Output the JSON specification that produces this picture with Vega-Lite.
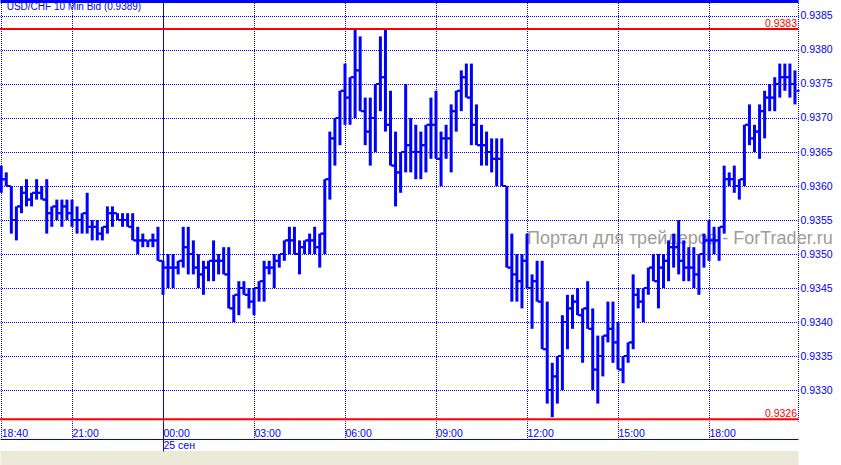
{
  "$schema": "https://vega.github.io/schema/vega-lite/v6.json",
  "width": 798,
  "height": 420,
  "autosize": {"type": "none"},
  "padding": {"left": 0, "top": 1, "right": 43, "bottom": 44},
  "background": "#ffffff",
  "config": {"view": {"stroke": null}, "font": "Liberation Sans"},
  "resolve": {"axis": {"x": "independent"}},
  "datasets": {
    "bars": [
      {"t":"2012-09-24T18:40","o":0.9359,"h":0.9363,"l":0.9359,"c":0.9361},
      {"t":"2012-09-24T18:50","o":0.9361,"h":0.9362,"l":0.9360,"c":0.9360},
      {"t":"2012-09-24T19:00","o":0.9360,"h":0.9360,"l":0.9353,"c":0.9355},
      {"t":"2012-09-24T19:10","o":0.9355,"h":0.9357,"l":0.9352,"c":0.9357},
      {"t":"2012-09-24T19:20","o":0.9357,"h":0.9360,"l":0.9356,"c":0.9359},
      {"t":"2012-09-24T19:30","o":0.9359,"h":0.9361,"l":0.9357,"c":0.9358},
      {"t":"2012-09-24T19:40","o":0.9358,"h":0.9359,"l":0.9357,"c":0.9359},
      {"t":"2012-09-24T19:50","o":0.9359,"h":0.9361,"l":0.9358,"c":0.9359},
      {"t":"2012-09-24T20:00","o":0.9359,"h":0.9360,"l":0.9358,"c":0.9358},
      {"t":"2012-09-24T20:10","o":0.9358,"h":0.9361,"l":0.9353,"c":0.9356},
      {"t":"2012-09-24T20:20","o":0.9356,"h":0.9357,"l":0.9354,"c":0.9357},
      {"t":"2012-09-24T20:30","o":0.9357,"h":0.9358,"l":0.9355,"c":0.9356},
      {"t":"2012-09-24T20:40","o":0.9356,"h":0.9358,"l":0.9354,"c":0.9357},
      {"t":"2012-09-24T20:50","o":0.9357,"h":0.9358,"l":0.9355,"c":0.9356},
      {"t":"2012-09-24T21:00","o":0.9356,"h":0.9358,"l":0.9354,"c":0.9355},
      {"t":"2012-09-24T21:10","o":0.9355,"h":0.9357,"l":0.9353,"c":0.9355},
      {"t":"2012-09-24T21:20","o":0.9355,"h":0.9356,"l":0.9353,"c":0.9356},
      {"t":"2012-09-24T21:30","o":0.9356,"h":0.9359,"l":0.9353,"c":0.9354},
      {"t":"2012-09-24T21:40","o":0.9354,"h":0.9355,"l":0.9352,"c":0.9354},
      {"t":"2012-09-24T21:50","o":0.9354,"h":0.9355,"l":0.9352,"c":0.9353},
      {"t":"2012-09-24T22:00","o":0.9353,"h":0.9354,"l":0.9352,"c":0.9354},
      {"t":"2012-09-24T22:10","o":0.9354,"h":0.9357,"l":0.9353,"c":0.9356},
      {"t":"2012-09-24T22:20","o":0.9356,"h":0.9357,"l":0.9354,"c":0.9356},
      {"t":"2012-09-24T22:30","o":0.9356,"h":0.9356,"l":0.9355,"c":0.9355},
      {"t":"2012-09-24T22:40","o":0.9355,"h":0.9356,"l":0.9354,"c":0.9355},
      {"t":"2012-09-24T22:50","o":0.9355,"h":0.9356,"l":0.9354,"c":0.9354},
      {"t":"2012-09-24T23:00","o":0.9354,"h":0.9356,"l":0.9352,"c":0.9352},
      {"t":"2012-09-24T23:10","o":0.9352,"h":0.9354,"l":0.9350,"c":0.9352},
      {"t":"2012-09-24T23:20","o":0.9352,"h":0.9353,"l":0.9351,"c":0.9352},
      {"t":"2012-09-24T23:30","o":0.9352,"h":0.9352,"l":0.9351,"c":0.9352},
      {"t":"2012-09-24T23:40","o":0.9352,"h":0.9353,"l":0.9351,"c":0.9352},
      {"t":"2012-09-24T23:50","o":0.9352,"h":0.9354,"l":0.9349,"c":0.9349},
      {"t":"2012-09-25T00:00","o":0.9349,"h":0.9349,"l":0.9344,"c":0.9348},
      {"t":"2012-09-25T00:10","o":0.9348,"h":0.9350,"l":0.9345,"c":0.9348},
      {"t":"2012-09-25T00:20","o":0.9348,"h":0.9350,"l":0.9345,"c":0.9348},
      {"t":"2012-09-25T00:30","o":0.9348,"h":0.9349,"l":0.9347,"c":0.9349},
      {"t":"2012-09-25T00:40","o":0.9349,"h":0.9354,"l":0.9348,"c":0.9351},
      {"t":"2012-09-25T00:50","o":0.9351,"h":0.9354,"l":0.9347,"c":0.9350},
      {"t":"2012-09-25T01:00","o":0.9350,"h":0.9352,"l":0.9347,"c":0.9348},
      {"t":"2012-09-25T01:10","o":0.9348,"h":0.9350,"l":0.9345,"c":0.9347},
      {"t":"2012-09-25T01:20","o":0.9347,"h":0.9349,"l":0.9344,"c":0.9348},
      {"t":"2012-09-25T01:30","o":0.9348,"h":0.9349,"l":0.9346,"c":0.9349},
      {"t":"2012-09-25T01:40","o":0.9349,"h":0.9352,"l":0.9346,"c":0.9349},
      {"t":"2012-09-25T01:50","o":0.9349,"h":0.9350,"l":0.9347,"c":0.9349},
      {"t":"2012-09-25T02:00","o":0.9349,"h":0.9351,"l":0.9347,"c":0.9347},
      {"t":"2012-09-25T02:10","o":0.9347,"h":0.9351,"l":0.9342,"c":0.9342},
      {"t":"2012-09-25T02:20","o":0.9342,"h":0.9344,"l":0.9340,"c":0.9344},
      {"t":"2012-09-25T02:30","o":0.9344,"h":0.9346,"l":0.9341,"c":0.9345},
      {"t":"2012-09-25T02:40","o":0.9345,"h":0.9346,"l":0.9344,"c":0.9344},
      {"t":"2012-09-25T02:50","o":0.9344,"h":0.9345,"l":0.9342,"c":0.9343},
      {"t":"2012-09-25T03:00","o":0.9343,"h":0.9345,"l":0.9341,"c":0.9345},
      {"t":"2012-09-25T03:10","o":0.9345,"h":0.9346,"l":0.9343,"c":0.9346},
      {"t":"2012-09-25T03:20","o":0.9346,"h":0.9349,"l":0.9343,"c":0.9348},
      {"t":"2012-09-25T03:30","o":0.9348,"h":0.9349,"l":0.9347,"c":0.9348},
      {"t":"2012-09-25T03:40","o":0.9348,"h":0.9350,"l":0.9345,"c":0.9349},
      {"t":"2012-09-25T03:50","o":0.9349,"h":0.9350,"l":0.9348,"c":0.9350},
      {"t":"2012-09-25T04:00","o":0.9350,"h":0.9352,"l":0.9349,"c":0.9352},
      {"t":"2012-09-25T04:10","o":0.9352,"h":0.9354,"l":0.9350,"c":0.9352},
      {"t":"2012-09-25T04:20","o":0.9352,"h":0.9354,"l":0.9350,"c":0.9350},
      {"t":"2012-09-25T04:30","o":0.9350,"h":0.9352,"l":0.9347,"c":0.9351},
      {"t":"2012-09-25T04:40","o":0.9351,"h":0.9352,"l":0.9350,"c":0.9352},
      {"t":"2012-09-25T04:50","o":0.9352,"h":0.9353,"l":0.9350,"c":0.9352},
      {"t":"2012-09-25T05:00","o":0.9352,"h":0.9354,"l":0.9350,"c":0.9351},
      {"t":"2012-09-25T05:10","o":0.9351,"h":0.9353,"l":0.9348,"c":0.9353},
      {"t":"2012-09-25T05:20","o":0.9353,"h":0.9361,"l":0.9350,"c":0.9361},
      {"t":"2012-09-25T05:30","o":0.9361,"h":0.9368,"l":0.9358,"c":0.9367},
      {"t":"2012-09-25T05:40","o":0.9367,"h":0.9370,"l":0.9363,"c":0.9370},
      {"t":"2012-09-25T05:50","o":0.9370,"h":0.9374,"l":0.9366,"c":0.9374},
      {"t":"2012-09-25T06:00","o":0.9374,"h":0.9378,"l":0.9369,"c":0.9373},
      {"t":"2012-09-25T06:10","o":0.9373,"h":0.9376,"l":0.9369,"c":0.9376},
      {"t":"2012-09-25T06:20","o":0.9376,"h":0.9383,"l":0.9370,"c":0.9377},
      {"t":"2012-09-25T06:30","o":0.9377,"h":0.9382,"l":0.9371,"c":0.9371},
      {"t":"2012-09-25T06:40","o":0.9371,"h":0.9373,"l":0.9366,"c":0.9368},
      {"t":"2012-09-25T06:50","o":0.9368,"h":0.9373,"l":0.9363,"c":0.9370},
      {"t":"2012-09-25T07:00","o":0.9370,"h":0.9375,"l":0.9365,"c":0.9375},
      {"t":"2012-09-25T07:10","o":0.9375,"h":0.9382,"l":0.9371,"c":0.9376},
      {"t":"2012-09-25T07:20","o":0.9376,"h":0.9383,"l":0.9368,"c":0.9369},
      {"t":"2012-09-25T07:30","o":0.9369,"h":0.9374,"l":0.9363,"c":0.9363},
      {"t":"2012-09-25T07:40","o":0.9363,"h":0.9368,"l":0.9357,"c":0.9362},
      {"t":"2012-09-25T07:50","o":0.9362,"h":0.9365,"l":0.9359,"c":0.9365},
      {"t":"2012-09-25T08:00","o":0.9365,"h":0.9375,"l":0.9362,"c":0.9366},
      {"t":"2012-09-25T08:10","o":0.9366,"h":0.9370,"l":0.9362,"c":0.9365},
      {"t":"2012-09-25T08:20","o":0.9365,"h":0.9369,"l":0.9361,"c":0.9365},
      {"t":"2012-09-25T08:30","o":0.9365,"h":0.9368,"l":0.9361,"c":0.9366},
      {"t":"2012-09-25T08:40","o":0.9366,"h":0.9369,"l":0.9362,"c":0.9369},
      {"t":"2012-09-25T08:50","o":0.9369,"h":0.9373,"l":0.9364,"c":0.9369},
      {"t":"2012-09-25T09:00","o":0.9369,"h":0.9374,"l":0.9364,"c":0.9364},
      {"t":"2012-09-25T09:10","o":0.9364,"h":0.9368,"l":0.9360,"c":0.9367},
      {"t":"2012-09-25T09:20","o":0.9367,"h":0.9369,"l":0.9364,"c":0.9367},
      {"t":"2012-09-25T09:30","o":0.9367,"h":0.9372,"l":0.9362,"c":0.9371},
      {"t":"2012-09-25T09:40","o":0.9371,"h":0.9374,"l":0.9368,"c":0.9374},
      {"t":"2012-09-25T09:50","o":0.9374,"h":0.9377,"l":0.9371,"c":0.9376},
      {"t":"2012-09-25T10:00","o":0.9376,"h":0.9378,"l":0.9373,"c":0.9373},
      {"t":"2012-09-25T10:10","o":0.9373,"h":0.9378,"l":0.9366,"c":0.9369},
      {"t":"2012-09-25T10:20","o":0.9369,"h":0.9372,"l":0.9366,"c":0.9366},
      {"t":"2012-09-25T10:30","o":0.9366,"h":0.9369,"l":0.9363,"c":0.9366},
      {"t":"2012-09-25T10:40","o":0.9366,"h":0.9368,"l":0.9363,"c":0.9365},
      {"t":"2012-09-25T10:50","o":0.9365,"h":0.9367,"l":0.9362,"c":0.9364},
      {"t":"2012-09-25T11:00","o":0.9364,"h":0.9367,"l":0.9360,"c":0.9364},
      {"t":"2012-09-25T11:10","o":0.9364,"h":0.9367,"l":0.9360,"c":0.9360},
      {"t":"2012-09-25T11:20","o":0.9360,"h":0.9360,"l":0.9348,"c":0.9348},
      {"t":"2012-09-25T11:30","o":0.9348,"h":0.9353,"l":0.9343,"c":0.9347},
      {"t":"2012-09-25T11:40","o":0.9347,"h":0.9350,"l":0.9343,"c":0.9346},
      {"t":"2012-09-25T11:50","o":0.9346,"h":0.9350,"l":0.9342,"c":0.9349},
      {"t":"2012-09-25T12:00","o":0.9349,"h":0.9353,"l":0.9345,"c":0.9345},
      {"t":"2012-09-25T12:10","o":0.9345,"h":0.9347,"l":0.9339,"c":0.9346},
      {"t":"2012-09-25T12:20","o":0.9346,"h":0.9349,"l":0.9343,"c":0.9343},
      {"t":"2012-09-25T12:30","o":0.9343,"h":0.9349,"l":0.9336,"c":0.9336},
      {"t":"2012-09-25T12:40","o":0.9336,"h":0.9343,"l":0.9328,"c":0.9330},
      {"t":"2012-09-25T12:50","o":0.9330,"h":0.9334,"l":0.9326,"c":0.9332},
      {"t":"2012-09-25T13:00","o":0.9332,"h":0.9335,"l":0.9328,"c":0.9335},
      {"t":"2012-09-25T13:10","o":0.9335,"h":0.9341,"l":0.9330,"c":0.9340},
      {"t":"2012-09-25T13:20","o":0.9340,"h":0.9344,"l":0.9336,"c":0.9342},
      {"t":"2012-09-25T13:30","o":0.9342,"h":0.9344,"l":0.9339,"c":0.9343},
      {"t":"2012-09-25T13:40","o":0.9343,"h":0.9345,"l":0.9341,"c":0.9341},
      {"t":"2012-09-25T13:50","o":0.9341,"h":0.9342,"l":0.9334,"c":0.9342},
      {"t":"2012-09-25T14:00","o":0.9342,"h":0.9346,"l":0.9339,"c":0.9339},
      {"t":"2012-09-25T14:10","o":0.9339,"h":0.9342,"l":0.9330,"c":0.9333},
      {"t":"2012-09-25T14:20","o":0.9333,"h":0.9338,"l":0.9328,"c":0.9335},
      {"t":"2012-09-25T14:30","o":0.9335,"h":0.9338,"l":0.9332,"c":0.9338},
      {"t":"2012-09-25T14:40","o":0.9338,"h":0.9343,"l":0.9337,"c":0.9339},
      {"t":"2012-09-25T14:50","o":0.9339,"h":0.9343,"l":0.9334,"c":0.9337},
      {"t":"2012-09-25T15:00","o":0.9337,"h":0.9340,"l":0.9333,"c":0.9333},
      {"t":"2012-09-25T15:10","o":0.9333,"h":0.9335,"l":0.9331,"c":0.9335},
      {"t":"2012-09-25T15:20","o":0.9335,"h":0.9337,"l":0.9334,"c":0.9337},
      {"t":"2012-09-25T15:30","o":0.9337,"h":0.9347,"l":0.9336,"c":0.9344},
      {"t":"2012-09-25T15:40","o":0.9344,"h":0.9345,"l":0.9342,"c":0.9343},
      {"t":"2012-09-25T15:50","o":0.9343,"h":0.9345,"l":0.9340,"c":0.9345},
      {"t":"2012-09-25T16:00","o":0.9345,"h":0.9348,"l":0.9344,"c":0.9348},
      {"t":"2012-09-25T16:10","o":0.9348,"h":0.9350,"l":0.9346,"c":0.9346},
      {"t":"2012-09-25T16:20","o":0.9346,"h":0.9350,"l":0.9342,"c":0.9348},
      {"t":"2012-09-25T16:30","o":0.9348,"h":0.9350,"l":0.9345,"c":0.9349},
      {"t":"2012-09-25T16:40","o":0.9349,"h":0.9352,"l":0.9346,"c":0.9351},
      {"t":"2012-09-25T16:50","o":0.9351,"h":0.9353,"l":0.9348,"c":0.9351},
      {"t":"2012-09-25T17:00","o":0.9351,"h":0.9355,"l":0.9347,"c":0.9349},
      {"t":"2012-09-25T17:10","o":0.9349,"h":0.9352,"l":0.9346,"c":0.9348},
      {"t":"2012-09-25T17:20","o":0.9348,"h":0.9351,"l":0.9346,"c":0.9348},
      {"t":"2012-09-25T17:30","o":0.9348,"h":0.9351,"l":0.9345,"c":0.9347},
      {"t":"2012-09-25T17:40","o":0.9347,"h":0.9350,"l":0.9344,"c":0.9350},
      {"t":"2012-09-25T17:50","o":0.9350,"h":0.9353,"l":0.9348,"c":0.9352},
      {"t":"2012-09-25T18:00","o":0.9352,"h":0.9355,"l":0.9349,"c":0.9352},
      {"t":"2012-09-25T18:10","o":0.9352,"h":0.9354,"l":0.9350,"c":0.9352},
      {"t":"2012-09-25T18:20","o":0.9352,"h":0.9354,"l":0.9349,"c":0.9354},
      {"t":"2012-09-25T18:30","o":0.9354,"h":0.9363,"l":0.9353,"c":0.9361},
      {"t":"2012-09-25T18:40","o":0.9361,"h":0.9362,"l":0.9360,"c":0.9361},
      {"t":"2012-09-25T18:50","o":0.9361,"h":0.9363,"l":0.9359,"c":0.9360},
      {"t":"2012-09-25T19:00","o":0.9360,"h":0.9361,"l":0.9358,"c":0.9361},
      {"t":"2012-09-25T19:10","o":0.9361,"h":0.9369,"l":0.9360,"c":0.9369},
      {"t":"2012-09-25T19:20","o":0.9369,"h":0.9372,"l":0.9366,"c":0.9367},
      {"t":"2012-09-25T19:30","o":0.9367,"h":0.9369,"l":0.9365,"c":0.9368},
      {"t":"2012-09-25T19:40","o":0.9368,"h":0.9372,"l":0.9364,"c":0.9371},
      {"t":"2012-09-25T19:50","o":0.9371,"h":0.9374,"l":0.9367,"c":0.9373},
      {"t":"2012-09-25T20:00","o":0.9373,"h":0.9375,"l":0.9371,"c":0.9373},
      {"t":"2012-09-25T20:10","o":0.9373,"h":0.9376,"l":0.9371,"c":0.9375},
      {"t":"2012-09-25T20:20","o":0.9375,"h":0.9378,"l":0.9373,"c":0.9376},
      {"t":"2012-09-25T20:30","o":0.9376,"h":0.9378,"l":0.9374,"c":0.9376},
      {"t":"2012-09-25T20:40","o":0.9376,"h":0.9378,"l":0.9373,"c":0.9375},
      {"t":"2012-09-25T20:50","o":0.9375,"h":0.9377,"l":0.9372,"c":0.9374}
    ],
    "levels": [
      {"p": 0.93831, "label": "0.9383"},
      {"p": 0.93257, "label": "0.9326"}
    ]
  },
  "layer": [
    {
      "data": {"values": [{"txt": "Портал для трейдеров - ForTrader.ru"}]},
      "mark": {"type": "text", "align": "left", "baseline": "alphabetic", "font": "Liberation Sans", "fontSize": 18, "color": "#a39a9a"},
      "encoding": {
        "x": {"datum": {"year": 2012, "month": 9, "date": 25, "hours": 12, "minutes": 0, "seconds": 0}, "type": "temporal",
              "scale": {"domain": [{"year": 2012, "month": 9, "date": 24, "hours": 18, "minutes": 37, "seconds": 35}, {"year": 2012, "month": 9, "date": 25, "hours": 20, "minutes": 56, "seconds": 2}], "nice": false},
              "axis": {"orient": "bottom", "offset": 36.5, "domain": true, "domainColor": "#ece9d8", "domainWidth": 14, "ticks": false, "labels": false, "grid": false, "title": null}},
        "y": {"datum": 0.935145, "type": "quantitative", "scale": {"domain": [0.932544118, 0.938720588], "nice": false, "zero": false},
              "axis": {"orient": "right", "values": [0.933, 0.9335, 0.934, 0.9345, 0.935, 0.9355, 0.936, 0.9365, 0.937, 0.9375, 0.938, 0.9385], "format": ".4f", "title": null, "grid": true, "gridColor": "#0000ff", "gridDash": [1, 1], "gridDashOffset": 0.5, "gridWidth": 1, "gridOpacity": 1, "domain": true, "domainColor": "#0000ff", "domainDash": [1, 1], "domainDashOffset": 0.5, "domainWidth": 1, "ticks": false, "labelPadding": 2, "labelAlign": "left", "labelBaseline": "middle", "labelColor": "#0000ff", "labelFont": "Liberation Sans", "labelFontSize": 10.5, "labelFlush": false, "labelOverlap": false, "labelBound": false}},
        "text": {"field": "txt"}
      }
    },
    {
      "data": {"name": "bars"},
      "mark": {"type": "rule", "color": "#0000ff", "strokeWidth": 3},
      "encoding": {
        "x": {"field": "t", "type": "temporal",
              "scale": {"domain": [{"year": 2012, "month": 9, "date": 24, "hours": 18, "minutes": 37, "seconds": 35}, {"year": 2012, "month": 9, "date": 25, "hours": 20, "minutes": 56, "seconds": 2}], "nice": false},
              "axis": {
                "orient": "bottom",
                "values": [
                  {"year": 2012, "month": 9, "date": 24, "hours": 18, "minutes": 40},
                  {"year": 2012, "month": 9, "date": 24, "hours": 21, "minutes": 0},
                  {"year": 2012, "month": 9, "date": 25, "hours": 0, "minutes": 0},
                  {"year": 2012, "month": 9, "date": 25, "hours": 3, "minutes": 0},
                  {"year": 2012, "month": 9, "date": 25, "hours": 6, "minutes": 0},
                  {"year": 2012, "month": 9, "date": 25, "hours": 9, "minutes": 0},
                  {"year": 2012, "month": 9, "date": 25, "hours": 12, "minutes": 0},
                  {"year": 2012, "month": 9, "date": 25, "hours": 15, "minutes": 0},
                  {"year": 2012, "month": 9, "date": 25, "hours": 18, "minutes": 0}
                ],
                "format": "%H:%M",
                "title": null,
                "domain": false,
                "grid": true, "gridColor": "#0000ff", "gridWidth": 1, "gridOpacity": 1, "gridDashOffset": 0.5,
                "gridDash": {"condition": {"test": "hours(datum.value) == 0", "value": [1, 0]}, "value": [1, 1]},
                "ticks": true, "tickSize": 18, "tickColor": "#0000ff", "tickWidth": 1, "tickOpacity": 1, "tickDashOffset": 0.5,
                "tickDash": {"condition": {"test": "hours(datum.value) == 0", "value": [1, 0]}, "value": [1, 1]},
                "labelAlign": "left", "labelBaseline": "middle", "labelPadding": -6, "labelDx": 2,
                "labelColor": "#0000ff", "labelFont": "Liberation Sans", "labelFontSize": 10.5,
                "labelFlush": false, "labelOverlap": false, "labelBound": false
              }},
        "y": {"field": "l", "type": "quantitative", "scale": {"domain": [0.932544118, 0.938720588], "nice": false, "zero": false},
              "axis": {"orient": "right", "values": [0.933, 0.9335, 0.934, 0.9345, 0.935, 0.9355, 0.936, 0.9365, 0.937, 0.9375, 0.938, 0.9385], "format": ".4f", "title": null, "grid": true, "gridColor": "#0000ff", "gridDash": [1, 1], "gridDashOffset": 0.5, "gridWidth": 1, "gridOpacity": 1, "domain": true, "domainColor": "#0000ff", "domainDash": [1, 1], "domainDashOffset": 0.5, "domainWidth": 1, "ticks": false, "labelPadding": 2, "labelAlign": "left", "labelBaseline": "middle", "labelColor": "#0000ff", "labelFont": "Liberation Sans", "labelFontSize": 10.5, "labelFlush": false, "labelOverlap": false, "labelBound": false}},
        "y2": {"field": "h"}
      }
    },
    {
      "data": {"name": "bars"},
      "mark": {"type": "tick", "orient": "horizontal", "color": "#0000ff", "size": 3, "thickness": 2, "xOffset": -3, "opacity": 1},
      "encoding": {
        "x": {"field": "t", "type": "temporal",
              "scale": {"domain": [{"year": 2012, "month": 9, "date": 24, "hours": 18, "minutes": 37, "seconds": 35}, {"year": 2012, "month": 9, "date": 25, "hours": 20, "minutes": 56, "seconds": 2}], "nice": false},
              "axis": {
                "orient": "bottom", "offset": 18,
                "values": [{"year": 2012, "month": 9, "date": 25, "hours": 0, "minutes": 0}],
                "labelExpr": "'25 сен'",
                "title": null, "grid": false,
                "domain": true, "domainColor": "#0000ff", "domainWidth": 1,
                "ticks": true, "tickSize": 12, "tickColor": "#0000ff", "tickWidth": 1,
                "labelAlign": "left", "labelBaseline": "middle", "labelPadding": -6, "labelDx": 2,
                "labelColor": "#0000ff", "labelFont": "Liberation Sans", "labelFontSize": 10.5,
                "labelFlush": false, "labelOverlap": false, "labelBound": false
              }},
        "y": {"field": "o", "type": "quantitative", "scale": {"domain": [0.932544118, 0.938720588], "nice": false, "zero": false},
              "axis": {"orient": "right", "values": [0.933, 0.9335, 0.934, 0.9345, 0.935, 0.9355, 0.936, 0.9365, 0.937, 0.9375, 0.938, 0.9385], "format": ".4f", "title": null, "grid": true, "gridColor": "#0000ff", "gridDash": [1, 1], "gridDashOffset": 0.5, "gridWidth": 1, "gridOpacity": 1, "domain": true, "domainColor": "#0000ff", "domainDash": [1, 1], "domainDashOffset": 0.5, "domainWidth": 1, "ticks": false, "labelPadding": 2, "labelAlign": "left", "labelBaseline": "middle", "labelColor": "#0000ff", "labelFont": "Liberation Sans", "labelFontSize": 10.5, "labelFlush": false, "labelOverlap": false, "labelBound": false}}
      }
    },
    {
      "data": {"name": "bars"},
      "mark": {"type": "tick", "orient": "horizontal", "color": "#0000ff", "size": 3, "thickness": 2, "xOffset": 3, "opacity": 1},
      "encoding": {
        "x": {"field": "t", "type": "temporal",
              "scale": {"domain": [{"year": 2012, "month": 9, "date": 24, "hours": 18, "minutes": 37, "seconds": 35}, {"year": 2012, "month": 9, "date": 25, "hours": 20, "minutes": 56, "seconds": 2}], "nice": false},
              "axis": {"orient": "top", "domain": true, "domainColor": "#0000ff", "domainWidth": 3, "ticks": false, "labels": false, "grid": false, "title": null}},
        "y": {"field": "c", "type": "quantitative", "scale": {"domain": [0.932544118, 0.938720588], "nice": false, "zero": false},
              "axis": {"orient": "right", "values": [0.933, 0.9335, 0.934, 0.9345, 0.935, 0.9355, 0.936, 0.9365, 0.937, 0.9375, 0.938, 0.9385], "format": ".4f", "title": null, "grid": true, "gridColor": "#0000ff", "gridDash": [1, 1], "gridDashOffset": 0.5, "gridWidth": 1, "gridOpacity": 1, "domain": true, "domainColor": "#0000ff", "domainDash": [1, 1], "domainDashOffset": 0.5, "domainWidth": 1, "ticks": false, "labelPadding": 2, "labelAlign": "left", "labelBaseline": "middle", "labelColor": "#0000ff", "labelFont": "Liberation Sans", "labelFontSize": 10.5, "labelFlush": false, "labelOverlap": false, "labelBound": false}}
      }
    },
    {
      "data": {"name": "levels"},
      "mark": {"type": "rule", "color": "#ff0000", "strokeWidth": 2},
      "encoding": {
        "y": {"field": "p", "type": "quantitative", "scale": {"domain": [0.932544118, 0.938720588], "nice": false, "zero": false},
              "axis": {"orient": "right", "values": [0.933, 0.9335, 0.934, 0.9345, 0.935, 0.9355, 0.936, 0.9365, 0.937, 0.9375, 0.938, 0.9385], "format": ".4f", "title": null, "grid": true, "gridColor": "#0000ff", "gridDash": [1, 1], "gridDashOffset": 0.5, "gridWidth": 1, "gridOpacity": 1, "domain": true, "domainColor": "#0000ff", "domainDash": [1, 1], "domainDashOffset": 0.5, "domainWidth": 1, "ticks": false, "labelPadding": 2, "labelAlign": "left", "labelBaseline": "middle", "labelColor": "#0000ff", "labelFont": "Liberation Sans", "labelFontSize": 10.5, "labelFlush": false, "labelOverlap": false, "labelBound": false}}
      }
    },
    {
      "data": {"name": "levels"},
      "mark": {"type": "text", "align": "right", "baseline": "alphabetic", "dy": -2, "dx": -1, "font": "Liberation Sans", "fontSize": 10.5, "color": "#ff0000"},
      "encoding": {
        "x": {"datum": {"year": 2012, "month": 9, "date": 25, "hours": 20, "minutes": 56, "seconds": 2}, "type": "temporal",
              "scale": {"domain": [{"year": 2012, "month": 9, "date": 24, "hours": 18, "minutes": 37, "seconds": 35}, {"year": 2012, "month": 9, "date": 25, "hours": 20, "minutes": 56, "seconds": 2}], "nice": false},
              "axis": null},
        "y": {"field": "p", "type": "quantitative", "scale": {"domain": [0.932544118, 0.938720588], "nice": false, "zero": false},
              "axis": {"orient": "right", "values": [0.933, 0.9335, 0.934, 0.9345, 0.935, 0.9355, 0.936, 0.9365, 0.937, 0.9375, 0.938, 0.9385], "format": ".4f", "title": null, "grid": true, "gridColor": "#0000ff", "gridDash": [1, 1], "gridDashOffset": 0.5, "gridWidth": 1, "gridOpacity": 1, "domain": true, "domainColor": "#0000ff", "domainDash": [1, 1], "domainDashOffset": 0.5, "domainWidth": 1, "ticks": false, "labelPadding": 2, "labelAlign": "left", "labelBaseline": "middle", "labelColor": "#0000ff", "labelFont": "Liberation Sans", "labelFontSize": 10.5, "labelFlush": false, "labelOverlap": false, "labelBound": false}},
        "text": {"field": "label"}
      }
    },
    {
      "data": {"values": [{"txt": "USD/CHF 10 Min Bid (0.9389)"}]},
      "mark": {"type": "text", "align": "left", "baseline": "alphabetic", "font": "Liberation Sans", "fontSize": 10, "color": "#0000ff"},
      "encoding": {
        "x": {"datum": {"year": 2012, "month": 9, "date": 24, "hours": 18, "minutes": 50, "seconds": 48}, "type": "temporal",
              "scale": {"domain": [{"year": 2012, "month": 9, "date": 24, "hours": 18, "minutes": 37, "seconds": 35}, {"year": 2012, "month": 9, "date": 25, "hours": 20, "minutes": 56, "seconds": 2}], "nice": false},
              "axis": null},
        "y": {"datum": 0.938584, "type": "quantitative", "scale": {"domain": [0.932544118, 0.938720588], "nice": false, "zero": false},
              "axis": {"orient": "right", "values": [0.933, 0.9335, 0.934, 0.9345, 0.935, 0.9355, 0.936, 0.9365, 0.937, 0.9375, 0.938, 0.9385], "format": ".4f", "title": null, "grid": true, "gridColor": "#0000ff", "gridDash": [1, 1], "gridDashOffset": 0.5, "gridWidth": 1, "gridOpacity": 1, "domain": true, "domainColor": "#0000ff", "domainDash": [1, 1], "domainDashOffset": 0.5, "domainWidth": 1, "ticks": false, "labelPadding": 2, "labelAlign": "left", "labelBaseline": "middle", "labelColor": "#0000ff", "labelFont": "Liberation Sans", "labelFontSize": 10.5, "labelFlush": false, "labelOverlap": false, "labelBound": false}},
        "text": {"field": "txt"}
      }
    }
  ]
}
